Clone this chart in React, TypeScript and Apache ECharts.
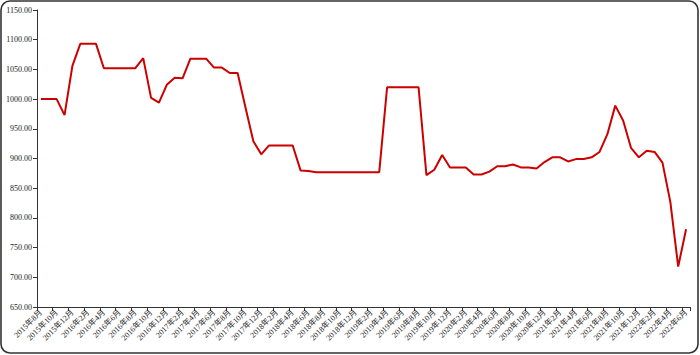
import React, { useEffect, useRef } from "react";
import * as echarts from "echarts";

const categories: string[] = [
  "2015年8月", "2015年9月", "2015年10月", "2015年11月", "2015年12月",
  "2016年1月", "2016年2月", "2016年3月", "2016年4月", "2016年5月", "2016年6月", "2016年7月", "2016年8月", "2016年9月", "2016年10月", "2016年11月", "2016年12月",
  "2017年1月", "2017年2月", "2017年3月", "2017年4月", "2017年5月", "2017年6月", "2017年7月", "2017年8月", "2017年9月", "2017年10月", "2017年11月", "2017年12月",
  "2018年1月", "2018年2月", "2018年3月", "2018年4月", "2018年5月", "2018年6月", "2018年7月", "2018年8月", "2018年9月", "2018年10月", "2018年11月", "2018年12月",
  "2019年1月", "2019年2月", "2019年3月", "2019年4月", "2019年5月", "2019年6月", "2019年7月", "2019年8月", "2019年9月", "2019年10月", "2019年11月", "2019年12月",
  "2020年1月", "2020年2月", "2020年3月", "2020年4月", "2020年5月", "2020年6月", "2020年7月", "2020年8月", "2020年9月", "2020年10月", "2020年11月", "2020年12月",
  "2021年1月", "2021年2月", "2021年3月", "2021年4月", "2021年5月", "2021年6月", "2021年7月", "2021年8月", "2021年9月", "2021年10月", "2021年11月", "2021年12月",
  "2022年1月", "2022年2月", "2022年3月", "2022年4月", "2022年5月", "2022年6月",
];

const values2015: number[] = [1000, 1000, 1000, 973, 1056];
const values2016: number[] = [1093, 1093, 1093, 1052, 1052, 1052, 1052, 1052, 1069, 1002, 994, 1024];
const values2017: number[] = [1036, 1035, 1068, 1068, 1068, 1053, 1053, 1044, 1044, 986, 929, 907];
const values2018: number[] = [922, 922, 922, 922, 880, 879, 877, 877, 877, 877, 877, 877];
const values2019: number[] = [877, 877, 877, 1020, 1020, 1020, 1020, 1020, 872, 881, 906, 885];
const values2020: number[] = [885, 885, 873, 873, 878, 887, 887, 890, 885, 885, 883, 894];
const values2021: number[] = [902, 902, 895, 899, 899, 902, 911, 941, 989, 964, 918, 902];
const values2022: number[] = [913, 911, 893, 827, 718, 781];

const seriesValues: number[] = [
  ...values2015, ...values2016, ...values2017, ...values2018,
  ...values2019, ...values2020, ...values2021, ...values2022,
];

const yMin = 650;
const yMax = 1150;
const yInterval = 50;

export default function App() {
  const ref = useRef<HTMLDivElement>(null);

  useEffect(() => {
    if (!ref.current) return;
    const chart = echarts.init(ref.current, undefined, { renderer: "svg" });
    const font = "'Liberation Serif', 'Times New Roman', 'Noto Sans CJK SC', serif";
    chart.setOption({
      animation: false,
      backgroundColor: "#ffffff",
      grid: { left: 37, right: 10, top: 10, bottom: 48, containLabel: false },
      graphic: [
        {
          type: "rect",
          shape: { x: 1, y: 1, width: 697, height: 352, r: 9 },
          style: { fill: "none", stroke: "#333333", lineWidth: 1.6 },
          silent: true,
          z: 100,
        },
      ],
      xAxis: {
        type: "category",
        data: categories,
        boundaryGap: true,
        axisLine: { show: true, lineStyle: { color: "#333333", width: 1 } },
        axisTick: { show: true, interval: 1, length: 4, lineStyle: { color: "#333333" } },
        axisLabel: {
          interval: 1,
          rotate: 45,
          margin: 4,
          fontSize: 8,
          color: "#222222",
          fontFamily: font,
        },
        splitLine: { show: false },
      },
      yAxis: {
        type: "value",
        min: yMin,
        max: yMax,
        interval: yInterval,
        axisLine: { show: true, lineStyle: { color: "#333333", width: 1 } },
        axisTick: { show: true, length: 4, lineStyle: { color: "#333333" } },
        axisLabel: {
          margin: 5,
          fontSize: 8,
          color: "#222222",
          fontFamily: font,
          formatter: (v: number) => v.toFixed(2),
        },
        splitLine: { show: false },
      },
      series: [
        {
          type: "line",
          data: seriesValues,
          showSymbol: false,
          symbol: "none",
          lineStyle: { color: "#cc0000", width: 2 },
          itemStyle: { color: "#cc0000" },
        },
      ],
    });
    return () => chart.dispose();
  }, []);

  return (
    <div
      ref={ref}
      style={{ position: "fixed", left: 0, top: 0, width: 700, height: 355, background: "#fff" }}
    />
  );
}
